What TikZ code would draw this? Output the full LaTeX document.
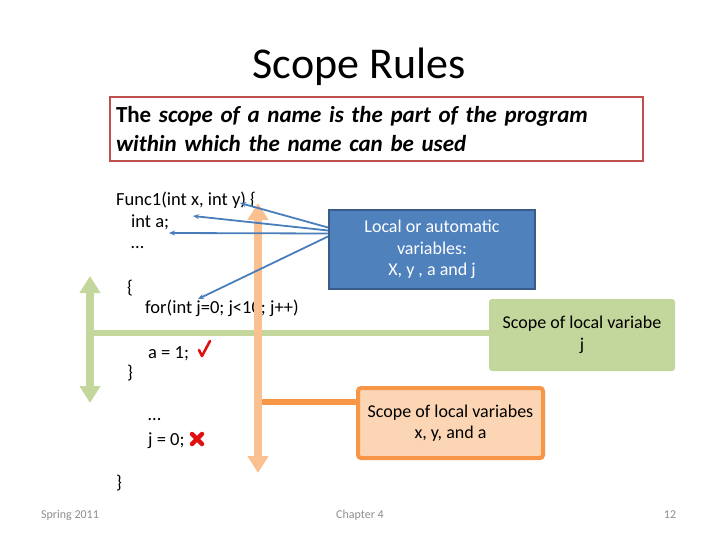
\documentclass[tikz,border=0pt]{standalone}
\usepackage{fontspec}
\setmainfont{Carlito}
\usetikzlibrary{arrows.meta}
\definecolor{ruleRed}{HTML}{C0504D}
\definecolor{localBlue}{HTML}{4F81BD}
\definecolor{localEdge}{HTML}{385D8A}
\definecolor{pointBlue}{HTML}{4A7EBB}
\definecolor{scopeGreen}{HTML}{C3D69B}
\definecolor{scopeOrange}{HTML}{F79646}
\definecolor{paleOrange}{HTML}{FAC090}
\definecolor{fillOrange}{HTML}{FCD5B4}
\definecolor{footGray}{HTML}{8C8C8C}
\definecolor{markRed}{HTML}{E01010}

\begin{document}
\begin{tikzpicture}[x=1pt,y=1pt,
  code/.style={anchor=base west,inner sep=0pt,font=\fontsize{18.5}{21}\selectfont},
  note/.style={align=center,inner sep=0pt,font=\fontsize{18}{21.5}\selectfont},
  foot/.style={text=footGray,font=\fontsize{12}{14}\selectfont},
  pointer/.style={draw=pointBlue,line width=1.8pt,-{Stealth[length=6pt,width=5pt]}},
  bigarrow/.style={line width=8pt,{Triangle[width=20pt,length=17pt]}-{Triangle[width=20pt,length=17pt]}}]
  \useasboundingbox (0,0) rectangle (720,-540);

  % title and rule
  \draw(359,-67) node[font=\fontsize{44}{52}\selectfont] (title) {Scope Rules};
  \draw(376.5,-129) node[draw=ruleRed,line width=2.5pt,minimum width=533,minimum height=64,
    text width=521,align=left,inner sep=0pt,font=\bfseries\fontsize{23}{29}\selectfont] (rule)
    {The \textit{scope of a name is the part of the program}\\\textit{within which the name can be used}};

  % the code
  \draw(116,-206) node[code] (func) {Func1(int x, int y) \{};
  \draw(131,-227) node[code] (inta) {int a;};
  \draw(131,-248) node[code] (dotsA) {…};
  \draw(127,-293) node[code] (openB) {\{};
  \draw(145,-313) node[code] (forj) {for(int j=0; j<10; j++)};
  \draw(148,-358) node[code] (seta) {a = 1;};
  \draw(127,-378) node[code] (closeB) {\}};
  \draw(148,-420) node[code] (dotsB) {…};
  \draw(148,-445) node[code] (setj) {j = 0;};
  \draw(116,-488) node[code] (closeA) {\}};

  % ok / not ok marks
  \draw[markRed,line width=2.6pt,line cap=round,line join=round] (199,-350) -- (202,-356) -- (210,-341);
  \draw[markRed,line width=4.5pt,line cap=round] (192,-434) -- (202,-444) (192,-444) -- (202,-434);

  % scope of j
  \draw(582,-335) node[note,fill=scopeGreen,rounded corners=3pt,minimum width=186,minimum height=72] (jscope)
    {Scope of local variabe\\j};
  \draw[scopeGreen,line width=6.5pt] (90,-333) -- (jscope.west |- 0,-333);
  \coordinate (jtop) at (90,-276);
  \coordinate (jend) at (90,-403);
  \draw[scopeGreen,bigarrow] (jtop) -- (jend);

  % scope of x, y, a
  \draw(450.5,-423) node[note,draw=scopeOrange,line width=4pt,fill=fillOrange,rounded corners=3pt,
    minimum width=185,minimum height=70] (fscope) {Scope of local variabes\\x, y, and a};
  \coordinate (ftop) at (258,-203);
  \coordinate (fend) at (258,-473);
  \coordinate (fjoin) at (258,-402);
  \draw[scopeOrange,line width=6.5pt] (fjoin) -- (fscope.west |- fjoin);
  \draw[paleOrange,bigarrow] (ftop) -- (fend);

  % local variables
  \draw(432,-249.5) node[note,text=white,fill=localBlue,draw=localEdge,line width=2pt,
    minimum width=206,minimum height=79] (local) {Local or automatic\\variables:\\X, y , a and j};
  \coordinate (yvar) at (240,-203);
  \coordinate (avar) at (193,-216);
  \coordinate (dvar) at (169,-233);
  \coordinate (jvar) at (198,-299);
  \draw[pointer] ([yshift=22pt]local.west) -- (yvar);
  \draw[pointer] ([yshift=19pt]local.west) -- (avar);
  \draw[pointer] ([yshift=16pt]local.west) -- (dvar);
  \draw[pointer] ([yshift=13pt]local.west) -- (jvar);

  % footer
  \draw(70,-515) node[foot] (season) {Spring 2011};
  \draw(360,-515) node[foot] (chapter) {Chapter 4};
  \draw(670,-515) node[foot] (page) {12};
\end{tikzpicture}
\end{document}
